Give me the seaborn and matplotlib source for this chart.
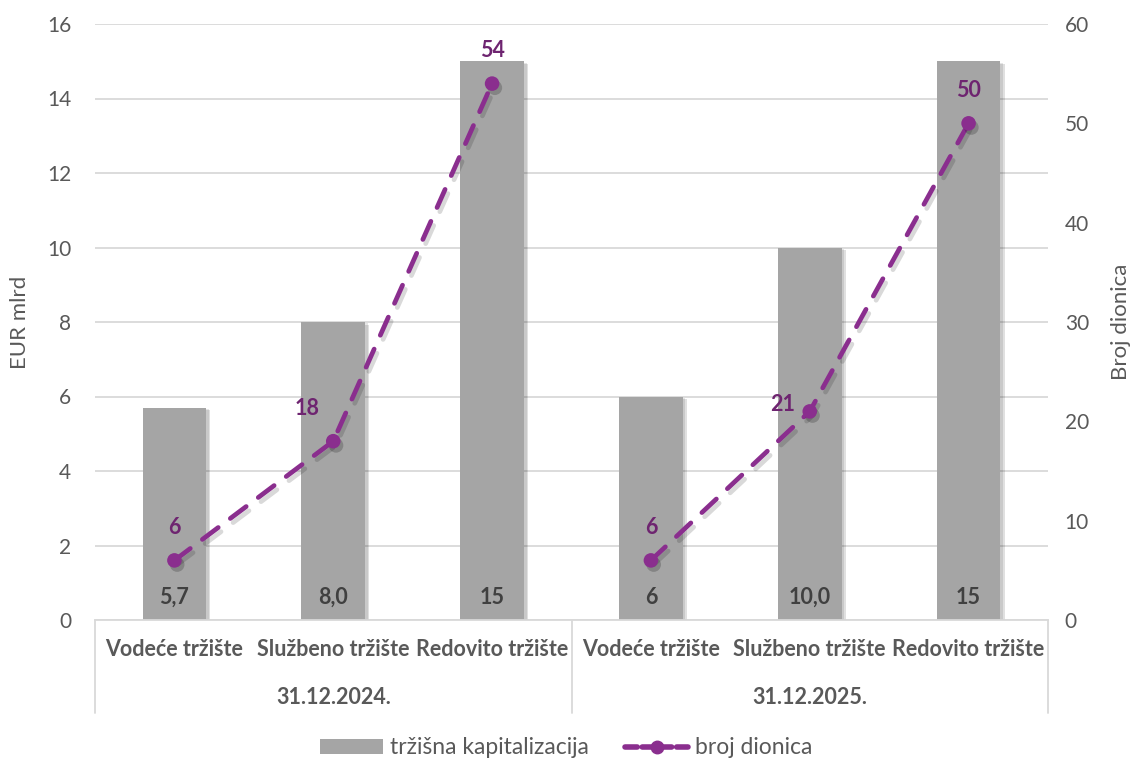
import matplotlib
matplotlib.use("Agg")
import matplotlib.pyplot as plt
import matplotlib.patheffects as pe
from matplotlib.patches import Patch
from matplotlib.lines import Line2D
import seaborn as sns
import pandas as pd
import numpy as np

# ---- data ----
groups = ["31.12.2024.", "31.12.2025."]
categories = ["Vodeće tržište", "Službeno tržište", "Redovito tržište"]
kapitalizacija = [5.7, 8.0, 15.0, 6.0, 10.0, 15.0]
kap_labels = ["5,7", "8,0", "15", "6", "10,0", "15"]
broj_dionica = [6, 18, 54, 6, 21, 50]
broj_labels = ["6", "18", "54", "6", "21", "50"]
left_ticks = [0, 2, 4, 6, 8, 10, 12, 14, 16]
right_ticks = [0, 10, 20, 30, 40, 50, 60]

# ---- style ----
BAR = "#A5A5A5"
LINE = "#8A2E8E"
LBL_LINE = "#6E2470"
TXT = "#595959"
GRID = "#D9D9D9"
FONT = ["Lato", "DejaVu Sans"]

sns.set_theme(style="white")
plt.rcParams["font.family"] = FONT

slots = [f"{g}|{c}" for g in groups for c in categories]
df = pd.DataFrame({"slot": slots, "kap": kapitalizacija, "broj": broj_dionica,
                   "grp": [g for g in groups for _ in categories],
                   "pos": np.arange(len(slots))})

fig = plt.figure(figsize=(11.32, 7.6), dpi=100)
ax = fig.add_axes([95 / 1132, 1 - 620 / 760, (1048 - 95) / 1132, (620 - 24) / 760])

sns.barplot(data=df, x="slot", y="kap", order=slots, color=BAR, width=0.4,
            saturation=1, ax=ax, zorder=2)
for p in ax.patches:
    p.set_edgecolor("none")
    p.set_path_effects([pe.SimplePatchShadow(offset=(3, -2), shadow_rgbFace="black", alpha=0.12),
                        pe.SimplePatchShadow(offset=(2, -1), shadow_rgbFace="black", alpha=0.10),
                        pe.Normal()])

ax.set_ylim(0, 16)
ax.set_xlim(-0.5, 5.5)
ax.set_yticks(left_ticks)
ax.set_yticklabels([str(t) for t in left_ticks], color=TXT, fontsize=15)
ax.yaxis.grid(True, color=GRID, linewidth=1.3, zorder=0)
ax.set_axisbelow(True)
for s in ["top", "left", "right"]:
    ax.spines[s].set_visible(False)
ax.spines["bottom"].set_color(GRID)
ax.spines["bottom"].set_linewidth(1.3)
ax.tick_params(axis="y", length=0, pad=17)
ax.set_xticks(range(len(slots)))
ax.set_xticklabels([c for g in groups for c in categories], fontsize=15.5,
                   fontweight="bold", color=TXT)
ax.tick_params(axis="x", length=0, pad=14)
ax.set_xlabel("")
ax.set_ylabel("EUR mlrd", color=TXT, fontsize=16, labelpad=12)

# bar labels at bottom
for i, t in enumerate(kap_labels):
    ax.annotate(t, (i, 0), xytext=(0, 23), textcoords="offset pixels",
                ha="center", va="center", fontsize=15.5, fontweight="bold", color="#404040", zorder=5)

# group labels & separators
for gi, g in enumerate(groups):
    ax.text(gi * 3 + 1, -0.13, g, transform=ax.get_xaxis_transform(), ha="center", va="center",
            fontsize=15.5, fontweight="bold", color=TXT)
for xf in [0, 0.5, 1.0]:
    ax.add_line(Line2D([xf, xf], [0, -(713 - 620) / 596], transform=ax.transAxes,
                       color=GRID, linewidth=1.3, clip_on=False))

# secondary axis - line
ax2 = ax.twinx()
shadow = [pe.SimpleLineShadow(offset=(2, -3), shadow_color="black", alpha=0.15), pe.Normal()]
sns.lineplot(data=df, x="pos", y="broj", units="grp", estimator=None, ax=ax2, color=LINE,
             linewidth=3.4, legend=False, zorder=3)
for ln in ax2.lines:
    ln.set_linestyle((0, (4.2, 3.2)))
    ln.set_dash_capstyle("round")
    ln.set_path_effects(shadow)
sns.scatterplot(data=df, x="pos", y="broj", ax=ax2, color=LINE, s=110, edgecolor="none",
                zorder=4, legend=False)
for c in ax2.collections:
    c.set_path_effects([pe.SimplePatchShadow(offset=(2, -3), shadow_rgbFace="black", alpha=0.2),
                        pe.Normal()])

ax2.set_ylim(0, 60)
ax2.set_xlim(-0.5, 5.5)
ax2.set_xlabel("")
ax2.set_yticks(right_ticks)
ax2.set_yticklabels([str(t) for t in right_ticks], color=TXT, fontsize=15)
ax2.tick_params(axis="y", length=0, pad=12)
for s in ax2.spines.values():
    s.set_visible(False)
ax2.set_ylabel("Broj dionica", color=TXT, fontsize=16, labelpad=16)
ax2.grid(False)

label_offsets = [(0, 33), (-26, 33), (0, 33), (0, 33), (-27, 7), (0, 33)]
for i, (v, t) in enumerate(zip(broj_dionica, broj_labels)):
    ax2.annotate(t, (i, v), xytext=label_offsets[i], textcoords="offset pixels",
                 ha="center", va="center", fontsize=15.5, fontweight="bold", color=LBL_LINE, zorder=6)

# legend
handles = [Patch(facecolor=BAR, edgecolor="none"),
           Line2D([0], [0], color=LINE, linewidth=4, linestyle=(0, (2.2, 0.9)),
                  dash_capstyle="round", marker="o", markersize=9)]
fig.legend(handles, ["tržišna kapitalizacija", "broj dionica"], loc="center",
           bbox_to_anchor=(0.5, 1 - 748 / 760), ncol=2, frameon=False, fontsize=16.5,
           labelcolor=TXT, handlelength=2.75, handleheight=0.6, columnspacing=1.6, handletextpad=0.3)

fig.savefig("out.png", dpi=100)
